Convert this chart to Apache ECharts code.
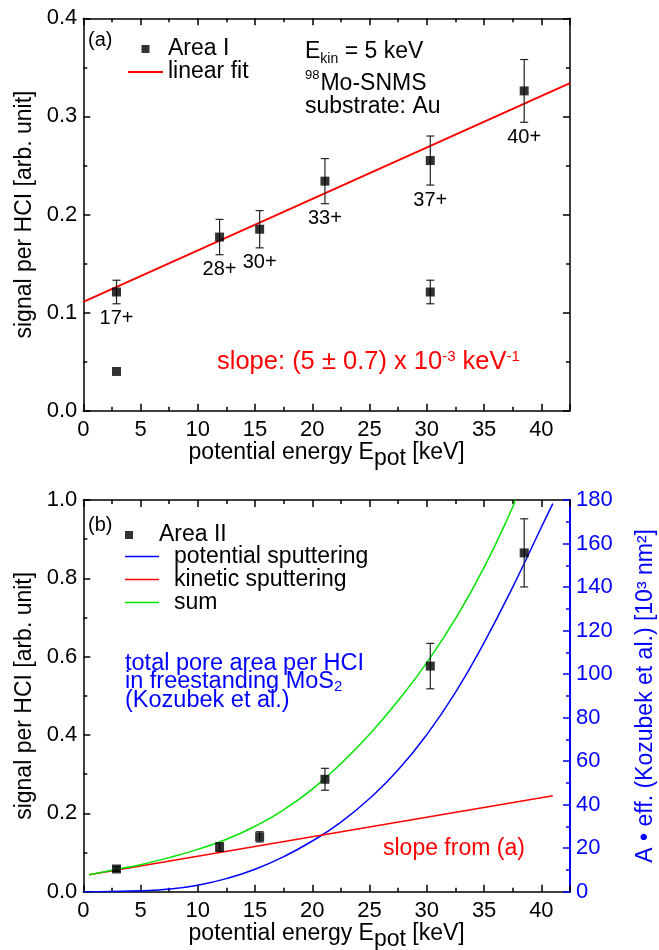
<!DOCTYPE html>
<html>
<head>
<meta charset="utf-8">
<script src="https://cdn.jsdelivr.net/npm/echarts@6/dist/echarts.min.js"></script>
<style>
  html, body { margin: 0; padding: 0; background: #fff; }
  #chart { width: 659px; height: 950px; }
</style>
</head>
<body>
<div id="chart"></div>
<script>
// ---- panel (a): signal per HCI, Area I ----
const energyA = [2.9, 2.9, 11.9, 15.4, 21.1, 30.3, 30.3, 38.5];
const signalA = [0.121, 0.040, 0.177, 0.185, 0.234, 0.255, 0.121, 0.326];
const errorA  = [0.012, 0, 0.018, 0.019, 0.023, 0.025, 0.012, 0.032];
const chargeA = ['17+', '', '28+', '30+', '33+', '37+', '', '40+'];
const fitEnergy = [0, 42.5];
const fitSignal = [0.111, 0.334];

// ---- panel (b): signal per HCI, Area II, with sputtering model curves ----
const energyB = [2.9, 11.9, 15.4, 21.1, 30.3, 38.5];
const signalB = [0.058, 0.114, 0.140, 0.287, 0.576, 0.865];
const errorB  = [0.006, 0.011, 0.013, 0.028, 0.058, 0.087];
// pore area per HCI in 10^3 nm^2 (right axis)
const potEnergy = [0, 2.5, 5, 7.5, 10, 12.5, 15, 17.5, 20, 22.5, 25, 27.5, 30, 32.5, 35, 37.5, 40, 41];
const potArea   = [0, 0.1, 0.4, 1.2, 3.0, 6.0, 10.3, 16.1, 23.3, 32.0, 42.8, 56.0, 72.2, 91.6, 114.5, 140.0, 167.5, 178.3];
const kinEnergy = [0.5, 41];
const kinSignal = [0.043, 0.245];
const sumEnergy = [0.5, 2.5, 5, 7.5, 10, 12.5, 15, 17.5, 20, 22.5, 25, 27.5, 30, 32.5, 35, 37.5, 37.7];
const sumSignal = [0.043, 0.055, 0.069, 0.087, 0.108, 0.134, 0.167, 0.209, 0.262, 0.327, 0.402, 0.488, 0.585, 0.697, 0.828, 0.982, 1.0];

// axis ranges
const energyRange = { min: 0, max: 42.5, interval: 5 };
const signalRangeA = { min: 0, max: 0.4, interval: 0.1 };
const signalRangeB = { min: 0, max: 1.0, interval: 0.2 };
const areaRange = { min: 0, max: 180, interval: 20 };

const FONT = '"Liberation Sans", Arial, Helvetica, sans-serif';
const BLUE = '#0000ff';
const RED = '#ff0000';
const GREEN = '#00e600';
const SQUARE = 'path://M0,0L10,0L10,10L0,10Z';
const LINE_ICON_A = 'path://M0,0L35,0L35,2L0,2Z';
const LINE_ICON_B = 'path://M0,0L34,0L34,1.5L0,1.5Z';

const zip = (xs, ys) => xs.map((x, i) => [x, ys[i]]);

function axis(gridIndex, position, range, opts) {
  const color = opts.color || '#000';
  const a = {
    type: 'value', gridIndex, position,
    min: range.min, max: range.max, interval: range.interval,
    axisLine: { show: true, onZero: false, lineStyle: { color, width: opts.lineWidth || 1.5 } },
    axisTick: { show: true, inside: true, length: 7, lineStyle: { color, width: 1.5 } },
    minorTick: { show: true, splitNumber: 2, length: 4, lineStyle: { color, width: 1.5 } },
    splitLine: { show: false },
    axisLabel: { show: false }
  };
  if (opts.labels) {
    a.axisLabel = {
      show: true, color, fontSize: 22, fontFamily: FONT, margin: opts.margin,
      showMaxLabel: opts.showMax !== false,
      formatter: opts.formatter
    };
  }
  if (opts.name) {
    a.name = opts.name;
    a.nameLocation = 'middle';
    a.nameGap = opts.nameGap;
    if (opts.nameRotate !== undefined) a.nameRotate = opts.nameRotate;
    a.nameTextStyle = Object.assign({ color, fontSize: 23, fontFamily: FONT }, opts.nameStyle || {});
  }
  return a;
}

const energyName = 'potential energy E{sub|pot} [keV]';
const energyNameStyle = {
  rich: { sub: { fontSize: 23, fontFamily: FONT, color: '#000', padding: [12, 0, 0, 0] } }
};
const energyFmt = v => (Math.abs(v % 5) < 1e-9 ? String(v) : '');

function errorBars(xIdx, yIdx, xs, ys, es, labels) {
  return {
    type: 'custom', xAxisIndex: xIdx, yAxisIndex: yIdx, z: 3,
    data: xs.map((x, i) => [x, ys[i], es[i]]),
    renderItem(params, api) {
      const x = api.value(0), y = api.value(1), e = api.value(2);
      const lo = api.coord([x, y - e]);
      const children = [];
      if (e > 0) {
        const hi = api.coord([x, y + e]);
        const st = { stroke: '#222', lineWidth: 1.2 };
        const c = 4;
        children.push({ type: 'line', shape: { x1: hi[0], y1: hi[1], x2: lo[0], y2: lo[1] }, style: st });
        children.push({ type: 'line', shape: { x1: hi[0] - c, y1: hi[1], x2: hi[0] + c, y2: hi[1] }, style: st });
        children.push({ type: 'line', shape: { x1: lo[0] - c, y1: lo[1], x2: lo[0] + c, y2: lo[1] }, style: st });
      }
      const lab = labels ? labels[params.dataIndex] : '';
      if (lab) {
        children.push({
          type: 'text', x: lo[0], y: lo[1] + 5,
          style: { text: lab, fill: '#000', fontSize: 20, fontFamily: FONT, align: 'center', verticalAlign: 'top' }
        });
      }
      return { type: 'group', children };
    }
  };
}

function note(x, y, text, style) {
  return {
    type: 'text', x, y, silent: true,
    style: Object.assign({ text, fill: '#000', fontSize: 23, fontFamily: FONT, align: 'left', verticalAlign: 'middle' }, style || {})
  };
}

const legendText = { fontSize: 23, fontFamily: FONT, color: '#000' };

const option = {
  animation: false,
  backgroundColor: '#fff',
  textStyle: { fontFamily: FONT },
  grid: [
    { left: 83.3, top: 18.3, width: 486.7, height: 392.4, containLabel: false, outerBoundsMode: 'none' },
    { left: 83.3, top: 500, width: 486.7, height: 391.7, containLabel: false, outerBoundsMode: 'none' }
  ],
  xAxis: [
    axis(0, 'bottom', energyRange, { labels: true, margin: 8, showMax: false, formatter: energyFmt,
      name: energyName, nameGap: 22, nameStyle: energyNameStyle }),
    axis(0, 'top', energyRange, {}),
    axis(1, 'bottom', energyRange, { labels: true, margin: 8, showMax: false, formatter: energyFmt,
      name: energyName, nameGap: 22, nameStyle: energyNameStyle }),
    axis(1, 'top', energyRange, {})
  ],
  yAxis: [
    axis(0, 'left', signalRangeA, { labels: true, margin: 6, formatter: v => v.toFixed(1),
      name: 'signal per HCI [arb. unit]', nameGap: 45, nameRotate: 90 }),
    axis(0, 'right', signalRangeA, {}),
    axis(1, 'left', signalRangeB, { labels: true, margin: 6, formatter: v => v.toFixed(1),
      name: 'signal per HCI [arb. unit]', nameGap: 45, nameRotate: 90 }),
    axis(1, 'right', areaRange, { color: BLUE, lineWidth: 2, labels: true, margin: 6, formatter: v => String(v),
      name: 'A \u2022 eff. (Kozubek et al.) [10\u00B3 nm\u00B2]', nameGap: 64, nameRotate: 90 })
  ],
  legend: [
    {
      data: [{ name: 'Area I', icon: SQUARE }, { name: 'linear fit', icon: LINE_ICON_A }],
      left: 128, top: 37.5, orient: 'vertical', padding: 0, itemGap: 0,
      itemWidth: 35, itemHeight: 8, selectedMode: false,
      textStyle: Object.assign({ lineHeight: 20 }, legendText)
    },
    {
      data: [{ name: 'Area II', icon: SQUARE }],
      left: 125, top: 523.5, orient: 'vertical', padding: 0, itemGap: 0,
      itemWidth: 34, itemHeight: 8, selectedMode: false,
      textStyle: Object.assign({ lineHeight: 18, padding: [0, 0, 0, 8] }, legendText)
    },
    {
      data: [
        { name: 'potential sputtering', icon: LINE_ICON_B },
        { name: 'kinetic sputtering', icon: LINE_ICON_B },
        { name: 'sum', icon: LINE_ICON_B }
      ],
      left: 125, top: 545, orient: 'vertical', padding: 0, itemGap: 0,
      itemWidth: 34, itemHeight: 8, selectedMode: false,
      textStyle: Object.assign({ lineHeight: 18, padding: [0, 0, 0, 10] }, legendText)
    }
  ],
  graphic: [
    note(88, 40, '(a)', { fontSize: 20 }),
    note(305, 52, 'E{sub|kin} = 5 keV', {
      rich: { sub: { fontSize: 14, fontFamily: FONT, fill: '#000', padding: [14, 0, 0, 0] } }
    }),
    note(305, 84, '{sup|98}Mo-SNMS', {
      rich: { sup: { fontSize: 13, fontFamily: FONT, fill: '#000', padding: [0, 1, 18, 0] } }
    }),
    note(305, 107, 'substrate: Au'),
    note(217, 362, 'slope: (5 \u00B1 0.7) x 10{sup|-3} keV{sup|-1}', {
      fill: RED, fontSize: 25.5,
      rich: { sup: { fontSize: 15, fontFamily: FONT, fill: RED, padding: [0, 0, 10, 0] } }
    }),
    note(88, 525, '(b)', { fontSize: 20 }),
    note(125, 663.5, 'total pore area per HCI', { fill: BLUE, fontSize: 23.5 }),
    note(125, 681.8, 'in freestanding MoS{sub|2}', {
      fill: BLUE, fontSize: 23.5,
      rich: { sub: { fontSize: 15, fontFamily: FONT, fill: BLUE, padding: [10, 0, 0, 0] } }
    }),
    note(125, 700.5, '(Kozubek et al.)', { fill: BLUE, fontSize: 23.5 }),
    note(383, 848.5, 'slope from (a)', { fill: RED })
  ],
  series: [
    {
      name: 'Area I', type: 'scatter', xAxisIndex: 0, yAxisIndex: 0, z: 5,
      symbol: 'rect', symbolSize: 9, itemStyle: { color: '#000' },
      data: zip(energyA, signalA)
    },
    errorBars(0, 0, energyA, signalA, errorA, chargeA),
    {
      name: 'linear fit', type: 'line', xAxisIndex: 0, yAxisIndex: 0, z: 2,
      symbol: 'none', showSymbol: false, color: RED,
      lineStyle: { color: RED, width: 2 },
      data: zip(fitEnergy, fitSignal)
    },
    {
      name: 'Area II', type: 'scatter', xAxisIndex: 2, yAxisIndex: 2, z: 5,
      symbol: 'rect', symbolSize: 9, itemStyle: { color: '#000' },
      data: zip(energyB, signalB)
    },
    errorBars(2, 2, energyB, signalB, errorB, null),
    {
      name: 'potential sputtering', type: 'line', xAxisIndex: 2, yAxisIndex: 3, z: 2,
      symbol: 'none', showSymbol: false, smooth: 0.5, color: BLUE,
      lineStyle: { color: BLUE, width: 1.5 },
      data: zip(potEnergy, potArea)
    },
    {
      name: 'kinetic sputtering', type: 'line', xAxisIndex: 2, yAxisIndex: 2, z: 2,
      symbol: 'none', showSymbol: false, color: RED,
      lineStyle: { color: RED, width: 1.5 },
      data: zip(kinEnergy, kinSignal)
    },
    {
      name: 'sum', type: 'line', xAxisIndex: 2, yAxisIndex: 2, z: 2,
      symbol: 'none', showSymbol: false, smooth: 0.5, color: GREEN,
      lineStyle: { color: GREEN, width: 1.5 },
      data: zip(sumEnergy, sumSignal)
    }
  ]
};

const chart = echarts.init(document.getElementById('chart'), null, { renderer: 'canvas' });
chart.setOption(option);
</script>
</body>
</html>
